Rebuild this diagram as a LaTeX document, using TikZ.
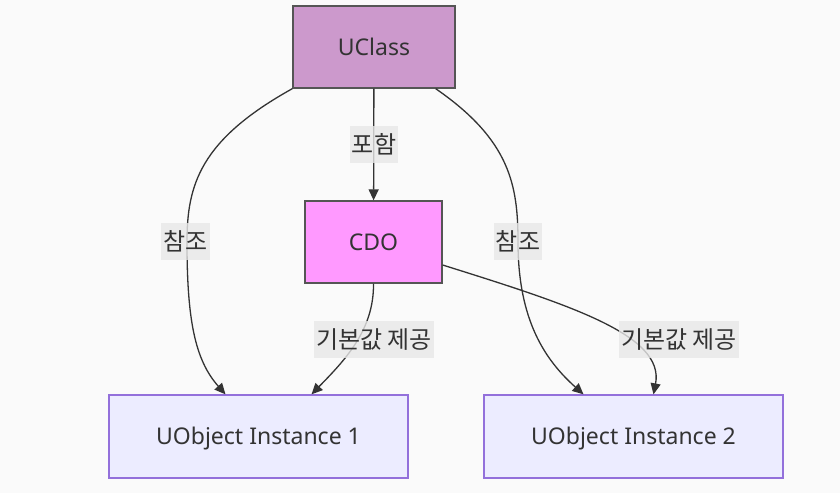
\documentclass[tikz,border=0pt]{standalone}
\usepackage{fontspec}
\setmainfont{Noto Sans}
\newfontfamily\kr{Noto Sans CJK KR}
\usepackage{xcolor}
\usetikzlibrary{positioning, arrows.meta}
\definecolor{bgcol}{RGB}{250,250,250}
\definecolor{classfill}{RGB}{204,153,204}
\definecolor{cdofill}{RGB}{255,153,255}
\definecolor{instfill}{RGB}{236,236,255}
\definecolor{instline}{RGB}{147,112,219}
\definecolor{boxline}{RGB}{85,85,85}
\definecolor{txt}{RGB}{51,51,51}
\definecolor{lblfill}{RGB}{232,232,232}
\begin{document}
\begin{tikzpicture}[
    x=1pt, y=-1pt,
    box/.style={rectangle, draw=boxline, line width=1.3pt, inner sep=0pt, text=txt, text height=16.5pt, text depth=0pt, font=\fontsize{23}{27}\selectfont},
    inst/.style={box, draw=instline, fill=instfill, minimum width=299pt, minimum height=83pt},
    lbl/.style={rectangle, fill=lblfill, fill opacity=0.8, text opacity=1, text=txt, inner xsep=2pt, inner ysep=0pt, minimum height=37pt, font=\kr\fontsize{24}{28}\selectfont},
    arrow/.style={-{Triangle[length=11pt, width=10pt]}, line width=1.3pt, draw=txt}
]
\fill[bgcol] (0,0) rectangle (840,493);
\useasboundingbox (0,0) rectangle (840,493);

\node[box, fill=classfill, minimum width=162pt, minimum height=82pt] (uclass) at (374,47) {UClass};
\node[box, fill=cdofill, minimum width=137pt, minimum height=82pt] (cdo) at (373.5,242) {CDO};
\node[inst] (inst1) at (258.5,436.5) {UObject Instance 1};
\node[inst] (inst2) at (633.5,436.5) {UObject Instance 2};

\draw[arrow] (uclass) -- (cdo);
\draw[arrow] (uclass.south west) .. controls (200,140) and (187,185) .. (187,242)
    .. controls (187,320) and (195,360) .. ([xshift=-33pt]inst1.north);
\draw[arrow] ([xshift=-20pt]uclass.south east) .. controls (510,140) and (518,185) .. (518,242)
    .. controls (518,320) and (545,360) .. ([xshift=-50pt]inst2.north);
\draw[arrow] (cdo.south) .. controls (374,330) and (345,360) .. ([xshift=53pt]inst1.north);
\draw[arrow] ([yshift=-23pt]cdo.east) .. controls (570,305) and (665,335) .. ([xshift=20pt]inst2.north);

\node[lbl] (contains) at (374,144.5) {포함};
\node[lbl] (ref1) at (185.5,241.5) {참조};
\node[lbl] (ref2) at (518,241.5) {참조};
\node[lbl] (default1) at (374,339.5) {기본값 제공};
\node[lbl] (default2) at (679,339.5) {기본값 제공};
\end{tikzpicture}
\end{document}
